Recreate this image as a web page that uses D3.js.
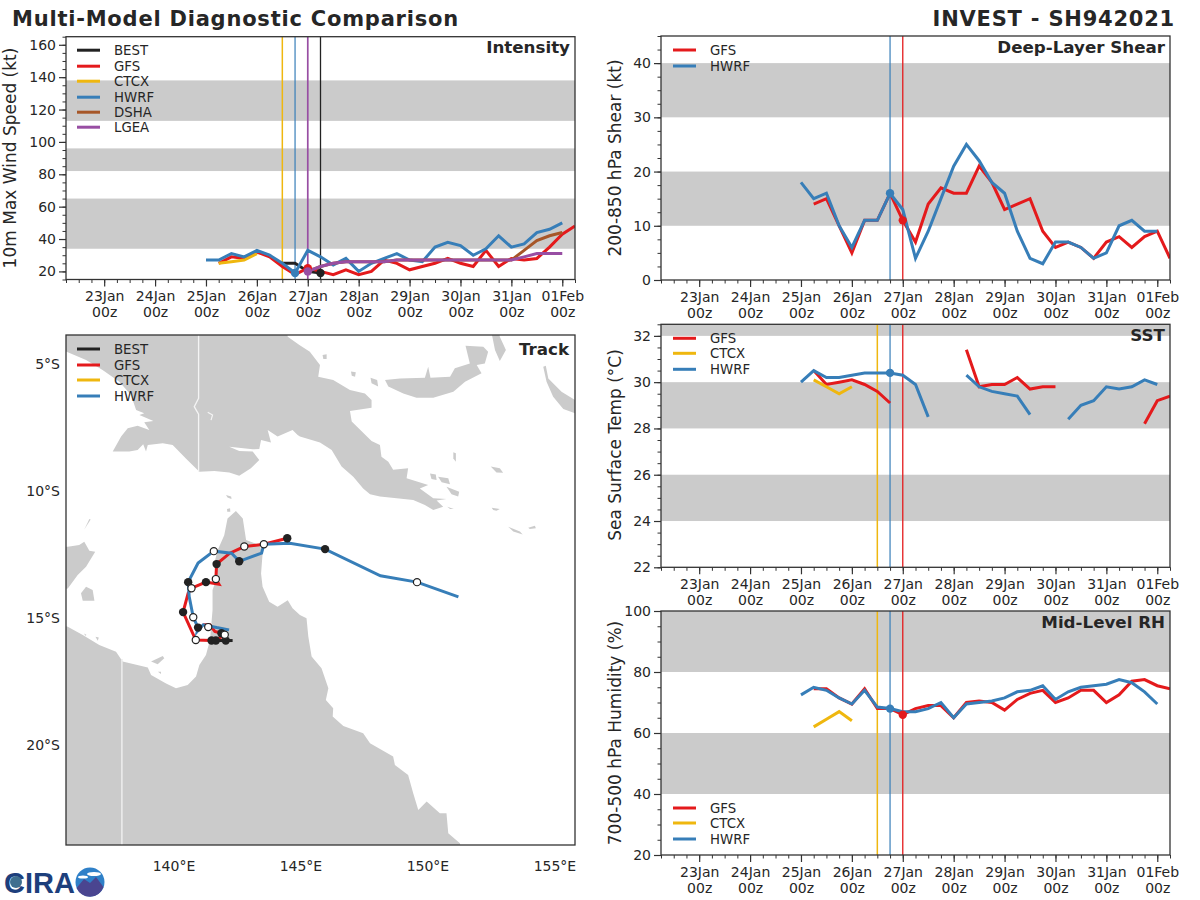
<!DOCTYPE html>
<html><head><meta charset="utf-8">
<script src="https://cdn.jsdelivr.net/npm/d3@7"></script>
<style>html,body{margin:0;background:#fff}svg{display:block}text{font-family:"DejaVu Sans",sans-serif;fill:#262626}</style>
</head><body><svg id="c" width="1200" height="900"></svg>
<script>
// ---------- time axis ----------
const tickDays = ["23Jan","24Jan","25Jan","26Jan","27Jan","28Jan","29Jan","30Jan","31Jan","01Feb"];
const hourStep = 6;
const JAN25 = Date.UTC(2021,0,25), JAN25_06 = Date.UTC(2021,0,25,6), JAN26_12 = Date.UTC(2021,0,26,12), JAN27 = Date.UTC(2021,0,27);
// ---------- intensity (kt) ----------
const intHwrf = [27,27,31,29,33,30,25,19,33,29,24,28,20,25,28,31,27,26,35,38,36,30,34,42,35,37,44,46,50];
const intGfs  = [25,29,28,32,29,23,18,22,20,18,21,18,20,27,25,21,23,25,28,25,23,33,23,28,27,28,35,43,48];
const intCtcx = [25,26,27,31];
const intBest = [25,25,20,19];
const intDsha = [20,23,25,26,26,26,26,27,27,27,27,27,27,27,27,27,27,33,39,42,44];
const intLgea = [20,23,25,26,26,26,26,27,27,27,27,27,27,27,27,27,27,29,31,31,31];
const intBands = [[34,65],[82,96],[113,138]];
// ---------- shear (kt) ----------
const shrHwrf = [18,15,16,10,6,11,11,16,13,4,9,15,21,25,22,18,16,9,4,3,7,7,6,4,5,10,11,9,9];
const shrGfs  = [14,15,10,5,11,11,16,11,7,14,17,16,16,21,18,13,14,15,9,6,7,6,4,7,8,6,8,9,4];
const shrBands = [[10,20],[30,40]];
// ---------- SST (C) ----------
const sstHwrf = [30.0,30.5,30.2,30.2,30.3,30.4,30.4,30.4,30.3,29.9,28.5,null,null,30.3,29.8,29.6,29.5,29.4,28.6,null,null,28.4,29.0,29.2,29.8,29.7,29.8,30.1,29.9];
const sstGfs  = [30.5,29.9,30.0,30.1,29.9,29.6,29.1,null,null,null,null,null,31.4,29.8,29.9,29.9,30.2,29.7,29.8,29.8,null,null,null,null,null,null,28.2,29.2,29.4];
const sstCtcx = [30.1,29.8,29.5,29.8];
const sstBands = [[24,26],[28,30],[32,33]];
// ---------- RH (%) ----------
const rhHwrf = [72.5,75,74,71.5,69.5,74,68.5,68,67,67,68,70,65,69.5,70,70.5,71.5,73.5,74,75.5,71,73.5,75,75.5,76,77.5,76.5,73.5,69.5];
const rhGfs  = [74.5,74.5,71.5,69.5,74.5,68,68,66,68,69,69,65,70,70.5,70,67.5,71,73,74,70,71.5,74,74,70,72.5,77,77.5,75.5,74.5];
const rhCtcx = [62,64.5,67,64];
const rhBands = [[40,60],[80,100]];
// ---------- track ----------
const lonTicks = [140,145,150,155], latTicks = [-5,-10,-15,-20];
const trkGfs = [[141.15,-15.27],[141.41,-15.27],[141.61,-15.53],[141.87,-15.60],[142.0,-15.66],[141.68,-15.86],[141.48,-15.89],[140.86,-15.87],[140.36,-14.77],[140.56,-14.02],[140.69,-13.83],[141.26,-13.59],[141.77,-13.67],[141.65,-13.47],[141.68,-12.88],[142.20,-12.45],[142.77,-12.19],[143.54,-12.10],[144.46,-11.86]];
const trkHwrf = [[142.17,-15.47],[141.68,-15.38],[141.15,-15.27],[140.92,-15.53],[140.95,-15.38],[140.76,-14.97],[140.60,-14.16],[140.56,-13.59],[140.95,-12.84],[141.57,-12.37],[142.27,-12.45],[142.57,-12.77],[143.45,-12.45],[143.54,-12.10],[144.56,-12.06],[145.95,-12.29],[148.13,-13.34],[149.57,-13.59],[151.20,-14.17]];
const trkBest = [[141.52,-15.89],[142.31,-15.89]];
const trkFilled = [[140.95,-15.38],[140.56,-13.59],[142.57,-12.77],[145.95,-12.29],[141.87,-15.60],[141.48,-15.89],[140.36,-14.77],[141.26,-13.59],[141.68,-12.88],[144.46,-11.86],[141.65,-15.89],[142.04,-15.89]];
const trkOpen = [[142.0,-15.66],[140.86,-15.87],[140.69,-13.83],[141.65,-13.47],[142.77,-12.19],[143.54,-12.10],[141.35,-15.36],[140.76,-14.97],[141.57,-12.37],[149.57,-13.59]];
// ---------- land outlines (lon, lat) ----------
const newGuinea = [[135,-3],[144.3,-3],[144.48,-3.93],[144.94,-4.25],[145.35,-4.52],[145.75,-5.04],[145.68,-5.50],[146.27,-5.63],[146.93,-6.03],[147.52,-6.16],[147.78,-6.42],[147.78,-6.72],[146.93,-6.85],[147.0,-7.27],[147.78,-8.03],[148.11,-8.19],[148.17,-8.65],[148.44,-8.85],[148.63,-9.17],[149.22,-9.11],[149.16,-9.50],[150.01,-9.77],[149.68,-9.90],[150.21,-10.29],[150.73,-10.32],[150.34,-10.38],[150.60,-10.62],[150.21,-10.75],[149.88,-10.55],[149.42,-10.36],[148.77,-10.29],[148.11,-10.22],[147.72,-10.13],[147.45,-9.90],[147.06,-9.44],[146.60,-9.04],[146.21,-8.39],[145.75,-8.09],[144.96,-7.86],[144.87,-7.80],[144.67,-7.60],[144.08,-7.86],[143.69,-7.60],[143.82,-8.09],[143.43,-7.99],[143.36,-8.35],[143.10,-8.36],[142.18,-8.26],[142.57,-8.43],[143.10,-8.45],[143.36,-8.78],[143.03,-9.11],[142.57,-9.40],[142.18,-9.27],[141.59,-9.21],[141.0,-9.24],[140.47,-8.72],[139.95,-8.19],[139.56,-8.12],[138.97,-8.19],[138.90,-8.45],[138.79,-8.16],[138.57,-8.39],[138.24,-8.45],[137.59,-8.45],[137.92,-7.86],[138.18,-7.53],[138.57,-7.43],[139.03,-7.60],[138.83,-7.30],[139.19,-7.25],[138.64,-7.01],[138.83,-6.94],[138.51,-6.81],[138.31,-6.22],[137.85,-5.70],[137.19,-5.24],[136.54,-4.84],[135.82,-4.54],[135,-4.2]];
const australia = [[135,-15.1],[135.82,-15.35],[136.41,-15.67],[137.06,-16.07],[137.72,-16.33],[137.98,-16.72],[138.97,-16.95],[139.10,-17.25],[139.69,-17.58],[140.08,-17.77],[140.54,-17.64],[140.87,-17.31],[141.0,-16.85],[141.26,-16.46],[141.42,-15.87],[141.52,-14.69],[141.52,-13.90],[141.66,-13.51],[141.59,-12.85],[141.72,-12.33],[141.98,-11.74],[142.11,-11.08],[142.44,-10.79],[142.71,-11.08],[142.84,-11.93],[143.36,-12.13],[143.49,-12.46],[143.43,-13.25],[143.49,-13.77],[143.75,-14.36],[144.08,-14.56],[144.48,-14.30],[144.67,-14.62],[144.96,-14.88],[145.22,-15.01],[145.29,-15.73],[145.42,-16.52],[145.81,-16.98],[146.08,-17.77],[145.98,-18.23],[146.27,-18.56],[146.25,-18.88],[146.67,-19.25],[147.45,-19.54],[147.72,-19.93],[148.63,-20.46],[148.70,-20.79],[149.22,-21.18],[149.42,-21.90],[149.62,-22.56],[149.95,-22.23],[150.47,-22.69],[150.73,-22.69],[150.80,-23.48],[151.26,-23.87],[151.4,-25],[135,-25]];
const arnhem = [[135,-12.2],[135.82,-12.20],[136.27,-12.13],[136.47,-12.0],[136.67,-12.35],[136.90,-12.39],[136.54,-12.98],[136.21,-13.31],[135.82,-13.84],[135,-14]];
const islands = [
 [[148.31,-5.63],[148.90,-5.57],[149.88,-5.54],[150.01,-5.11],[150.10,-5.54],[150.87,-5.50],[151.06,-5.17],[151.65,-4.98],[151.48,-4.28],[152.18,-4.32],[152.37,-4.52],[152.24,-4.98],[151.92,-5.04],[152.11,-5.37],[151.46,-5.70],[151.0,-6.09],[150.21,-6.33],[149.55,-6.33],[149.03,-6.16],[148.44,-5.89]],
 [[152.45,-3.5],[152.75,-3.5],[152.83,-3.93],[153.07,-4.45],[152.83,-4.88],[152.64,-4.45]],
 [[154.54,-5.11],[154.64,-5.07],[154.74,-5.57],[155.26,-6.09],[155.79,-6.42],[155.79,-6.94],[155.33,-6.77],[154.93,-6.29],[154.67,-5.70]],
 [[145.85,-4.65],[146.01,-4.62],[146.01,-4.80],[145.88,-4.80]],
 [[146.97,-5.30],[147.16,-5.33],[147.13,-5.50],[147.0,-5.46]],
 [[147.74,-5.54],[148.0,-5.63],[148.04,-5.89],[147.78,-5.76]],
 [[150.08,-9.31],[150.31,-9.35],[150.34,-9.57],[150.14,-9.53]],
 [[150.40,-9.44],[150.80,-9.50],[150.87,-9.74],[150.54,-9.66]],
 [[150.73,-9.83],[151.23,-10.03],[151.19,-10.22],[150.93,-10.13]],
 [[152.47,-9.04],[152.83,-9.11],[152.96,-9.28],[152.70,-9.27]],
 [[153.16,-11.41],[153.62,-11.60],[153.73,-11.71],[153.36,-11.60]],
 [[153.95,-11.45],[154.21,-11.37],[154.25,-11.47],[154.01,-11.50]],
 [[151.0,-8.48],[151.10,-8.52],[151.10,-8.85],[151.0,-8.72]],
 [[152.51,-10.66],[152.83,-10.71],[152.70,-10.78],[152.57,-10.75]],
 [[150.76,-10.62],[151.02,-10.71],[150.87,-10.71]],
 [[142.05,-10.16],[142.25,-10.22],[142.27,-10.32],[142.11,-10.26]],
 [[142.09,-10.71],[142.21,-10.68],[142.22,-10.82],[142.10,-10.82]],
 [[136.34,-14.03],[136.54,-13.77],[136.80,-13.90],[136.87,-14.32],[136.41,-14.32]],
 [[136.67,-11.10],[136.72,-11.12],[136.47,-11.52]],
 [[139.10,-16.72],[139.56,-16.50],[139.62,-16.59],[139.36,-16.82]],
 [[139.37,-17.12],[139.49,-17.12],[139.49,-17.21]],
 [[136.47,-15.61],[136.56,-15.67],[136.50,-15.70]],
 [[136.91,-15.74],[137.04,-15.77],[137.0,-15.90]]
];
const borderPng = [[140.97,-3],[140.97,-6.35],[140.80,-6.68],[140.97,-6.98],[140.97,-9.24]];
const borderQld = [[137.95,-16.62],[137.95,-25]];
const lakeLine = [[141.33,-6.90],[141.52,-7.01],[141.46,-7.21]];
// ---------- colours ----------
const C = {BEST:"#222222",GFS:"#e41a1c",CTCX:"#efb70f",HWRF:"#377eb8",DSHA:"#a65628",LGEA:"#984ea3"};
const BAND = "#cbcbcb", INK = "#262626", SPINE = "#333333";

const svg = d3.select("#c");
const X0 = Date.UTC(2021,0,22,6), X1 = Date.UTC(2021,1,1,6);
let uid = 0;

function spine(g,w,h){
  g.append("rect").attr("width",w).attr("height",h).attr("fill","none").attr("stroke",SPINE).attr("stroke-width",1.3);
}
function legend(g,names,lx,ty,dy){
  names.forEach((n,i)=>{
    const y = ty + dy[i];
    g.append("line").attr("x1",lx).attr("x2",lx+23).attr("y1",y).attr("y2",y).attr("stroke",C[n]).attr("stroke-width",3);
    g.append("text").attr("x",lx+37).attr("y",y+4.6).attr("font-size",13.3).text(n);
  });
}
function panel(o){
  const w=o.r-o.l, h=o.b-o.t;
  const g=svg.append("g").attr("transform",`translate(${o.l},${o.t})`);
  const x=d3.scaleUtc().domain([X0,X1]).range([0,w]);
  const y=d3.scaleLinear().domain(o.dom).range([h,0]);
  const id="cp"+(uid++);
  g.append("clipPath").attr("id",id).append("rect").attr("width",w).attr("height",h);
  const body=g.append("g").attr("clip-path",`url(#${id})`);
  body.selectAll(".band").data(o.bands).join("rect").attr("x",0).attr("width",w)
    .attr("y",d=>y(d[1])).attr("height",d=>y(d[0])-y(d[1])).attr("fill",BAND);
  o.vlines.forEach(v=>body.append("line").attr("x1",x(v.t)).attr("x2",x(v.t)).attr("y1",0).attr("y2",h)
    .attr("stroke",C[v.n]).attr("stroke-width",v.w||1.3));
  const line=d3.line().defined(d=>d.v!=null).x(d=>x(d.t)).y(d=>y(d.v));
  o.series.forEach(s=>{
    const pts=s.vals.map((v,i)=>({t:s.start+i*hourStep*36e5,v}));
    body.append("path").datum(pts).attr("d",line).attr("fill","none").attr("stroke",C[s.n]).attr("stroke-width",3).attr("stroke-linejoin","miter");
  });
  o.dots.forEach(d=>body.append("circle").attr("cx",x(d.t)).attr("cy",y(d.v)).attr("r",4.2).attr("fill",C[d.n]));
  const majors=d3.range(0,10).map(i=>Date.UTC(2021,0,23+i));
  const minors=d3.range(X0,X1+1,hourStep*36e5);
  g.append("g").attr("transform",`translate(0,${h})`).call(d3.axisBottom(x).tickValues(minors).tickSize(3.5).tickFormat("")).call(a=>{a.select(".domain").remove();a.selectAll("line").attr("stroke",SPINE).attr("stroke-width",1)});
  const xa=g.append("g").attr("transform",`translate(0,${h})`).call(d3.axisBottom(x).tickValues(majors).tickSize(7).tickPadding(5).tickFormat((d,i)=>tickDays[i]));
  xa.select(".domain").remove();
  xa.selectAll("line").attr("stroke",SPINE).attr("stroke-width",1.2);
  xa.selectAll("text").attr("font-size",14).attr("font-family",null).attr("fill",INK).each(function(){
    const t=d3.select(this), s=t.text(); t.text(null);
    t.append("tspan").attr("x",0).attr("dy","0.71em").text(s);
    t.append("tspan").attr("x",0).attr("dy",16).text("00z");
  });
  const ya=g.append("g").call(d3.axisLeft(y).tickValues(o.ticks).tickSize(7).tickPadding(3));
  ya.select(".domain").remove();
  ya.selectAll("line").attr("stroke",SPINE).attr("stroke-width",1.2);
  ya.selectAll("text").attr("font-size",14).attr("font-family",null).attr("fill",INK);
  const my=g.append("g").call(d3.axisLeft(y).tickValues(o.minor).tickSize(3.5).tickFormat(""));
  my.select(".domain").remove(); my.selectAll("line").attr("stroke",SPINE).attr("stroke-width",1);
  spine(g,w,h);
  g.append("text").attr("x",w-5).attr("y",16.5).attr("text-anchor","end").attr("font-weight","bold").attr("font-size",16.7).text(o.title);
  svg.append("text").attr("transform",`translate(${o.ylx},${o.yly}) rotate(-90)`).attr("text-anchor","middle").attr("font-size",17).text(o.ylabel);
  legend(g,o.legend,o.l<300?11:12,o.legTop,o.legDy);
}
const stepped=(a,b,s)=>d3.range(a,b+s/2,s);
const T = {a:JAN26_12,b:JAN27-6*36e5,c:JAN27,d:JAN27+6*36e5};

panel({l:66,r:575,t:36.7,b:279.5,dom:[15,165],bands:intBands,ticks:stepped(20,160,20),minor:stepped(15,165,5),
  title:"Intensity",ylabel:"10m Max Wind Speed (kt)",ylx:16,yly:158,
  vlines:[{t:T.a,n:"CTCX",w:1.5},{t:T.b,n:"HWRF",w:1.2},{t:T.c,n:"LGEA",w:1.7},{t:T.d,n:"BEST"}],
  series:[{n:"BEST",vals:intBest,start:T.a},{n:"GFS",vals:intGfs,start:JAN25_06},{n:"CTCX",vals:intCtcx,start:JAN25_06},{n:"HWRF",vals:intHwrf,start:JAN25},{n:"DSHA",vals:intDsha,start:JAN27},{n:"LGEA",vals:intLgea,start:JAN27}],
  dots:[{t:T.d,v:intBest[3],n:"BEST"},{t:T.c,v:intGfs[7],n:"GFS"},{t:T.b,v:intHwrf[7],n:"HWRF"},{t:T.c,v:intLgea[0],n:"LGEA"}],
  legend:["BEST","GFS","CTCX","HWRF","DSHA","LGEA"],legTop:13.5,legDy:[0,16,31,47,62,77]});

panel({l:661,r:1170,t:36,b:280,dom:[0,45],bands:shrBands,ticks:stepped(0,40,10),minor:stepped(0,45,2.5),
  title:"Deep-Layer Shear",ylabel:"200-850 hPa Shear (kt)",ylx:621,yly:158,
  vlines:[{t:T.b,n:"HWRF",w:1.2},{t:T.c,n:"GFS"}],
  series:[{n:"GFS",vals:shrGfs,start:JAN25_06},{n:"HWRF",vals:shrHwrf,start:JAN25}],
  dots:[{t:T.c,v:shrGfs[7],n:"GFS"},{t:T.b,v:shrHwrf[7],n:"HWRF"}],
  legend:["GFS","HWRF"],legTop:14,legDy:[0,16]});

panel({l:661,r:1170,t:324.3,b:567.3,dom:[22,32.5],bands:sstBands,ticks:stepped(22,32,2),minor:stepped(22,32.5,0.5),
  title:"SST",ylabel:"Sea Surface Temp (°C)",ylx:621,yly:445,
  vlines:[{t:T.a,n:"CTCX",w:1.5},{t:T.b,n:"HWRF",w:1.2},{t:T.c,n:"GFS"}],
  series:[{n:"GFS",vals:sstGfs,start:JAN25_06},{n:"CTCX",vals:sstCtcx,start:JAN25_06},{n:"HWRF",vals:sstHwrf,start:JAN25}],
  dots:[{t:T.b,v:sstHwrf[7],n:"HWRF"}],
  legend:["GFS","CTCX","HWRF"],legTop:14,legDy:[0,15,31]});

panel({l:661,r:1170,t:611,b:855,dom:[20,100],bands:rhBands,ticks:stepped(20,100,20),minor:stepped(20,100,5),
  title:"Mid-Level RH",ylabel:"700-500 hPa Humidity (%)",ylx:621,yly:733,
  vlines:[{t:T.a,n:"CTCX",w:1.5},{t:T.b,n:"HWRF",w:1.2},{t:T.c,n:"GFS"}],
  series:[{n:"GFS",vals:rhGfs,start:JAN25_06},{n:"CTCX",vals:rhCtcx,start:JAN25_06},{n:"HWRF",vals:rhHwrf,start:JAN25}],
  dots:[{t:T.c,v:rhGfs[7],n:"GFS"},{t:T.b,v:rhHwrf[7],n:"HWRF"}],
  legend:["GFS","CTCX","HWRF"],legTop:197,legDy:[0,15,31]});

// ---------- track map ----------
(function(){
  const l=66,r=575,t=335,b=845,w=r-l,h=b-t;
  const g=svg.append("g").attr("transform",`translate(${l},${t})`);
  const lon=d3.scaleLinear().domain([135.75,155.79]).range([0,w]);
  const lat=d3.scaleLinear().domain([-23.94,-3.86]).range([h,0]);
  g.append("clipPath").attr("id","cpm").append("rect").attr("width",w).attr("height",h);
  const m=g.append("g").attr("clip-path","url(#cpm)");
  const path=d3.line().x(d=>lon(d[0])).y(d=>lat(d[1]));
  [newGuinea,australia,arnhem,...islands].forEach(p=>m.append("path").attr("d",path(p)+"Z").attr("fill",BAND));
  m.append("path").attr("d",path(borderPng)).attr("fill","none").attr("stroke","#f4f4f4").attr("stroke-width",1.3);
  m.append("path").attr("d",path(lakeLine)).attr("fill","none").attr("stroke","#f4f4f4").attr("stroke-width",1.2);
  m.append("path").attr("d",path(borderQld)).attr("fill","none").attr("stroke","#ececec").attr("stroke-width",1.6);
  [[trkGfs,"GFS"],[trkHwrf,"HWRF"],[trkBest,"BEST"]].forEach(([p,n])=>m.append("path").attr("d",path(p)).attr("fill","none").attr("stroke",C[n]).attr("stroke-width",3));
  m.selectAll(".f").data(trkFilled).join("circle").attr("cx",d=>lon(d[0])).attr("cy",d=>lat(d[1])).attr("r",4.2).attr("fill","#222");
  m.selectAll(".o").data(trkOpen).join("circle").attr("cx",d=>lon(d[0])).attr("cy",d=>lat(d[1])).attr("r",3.6).attr("fill","#fff").attr("stroke","#222").attr("stroke-width",1.2);
  spine(g,w,h);
  lonTicks.forEach(v=>g.append("text").attr("x",lon(v)).attr("y",h+26).attr("text-anchor","middle").attr("font-size",14).text(v+"°E"));
  latTicks.forEach(v=>g.append("text").attr("x",-6).attr("y",lat(v)+5).attr("text-anchor","end").attr("font-size",14).text(-v+"°S"));
  g.append("text").attr("x",w-6).attr("y",20).attr("text-anchor","end").attr("font-weight","bold").attr("font-size",16.7).text("Track");
  legend(g,["BEST","GFS","CTCX","HWRF"],11,14,[0,16,31,47]);
})();

// ---------- titles ----------
svg.append("text").attr("x",12).attr("y",26).attr("font-weight","bold").attr("font-size",21).attr("letter-spacing",0.78).text("Multi-Model Diagnostic Comparison");
svg.append("text").attr("x",1175).attr("y",26).attr("text-anchor","end").attr("font-weight","bold").attr("font-size",21).attr("letter-spacing",0.78).text("INVEST - SH942021");

// ---------- logo ----------
const logo=svg.append("g");
logo.append("text").attr("x",4).attr("y",893).style("font-family","Liberation Sans").attr("font-weight","bold").attr("font-size",29).style("fill","#1d3f7c").text("CIRA");
logo.append("circle").attr("cx",16).attr("cy",882).attr("r",6).attr("fill","#3f6f8f");
logo.append("circle").attr("cx",90).attr("cy",882).attr("r",14.5).attr("fill","#2f80c8");
logo.append("path").attr("d","M76.5 888L84 879L90 883L96 877L103.5 887A14.5 14.5 0 0 1 76.5 888Z").attr("fill","#4a4590");
logo.append("ellipse").attr("cx",94).attr("cy",874).attr("rx",7).attr("ry",2).attr("fill","#fff");
logo.append("ellipse").attr("cx",83).attr("cy",877).attr("rx",5).attr("ry",1.6).attr("fill","#fff");
</script></body></html>
